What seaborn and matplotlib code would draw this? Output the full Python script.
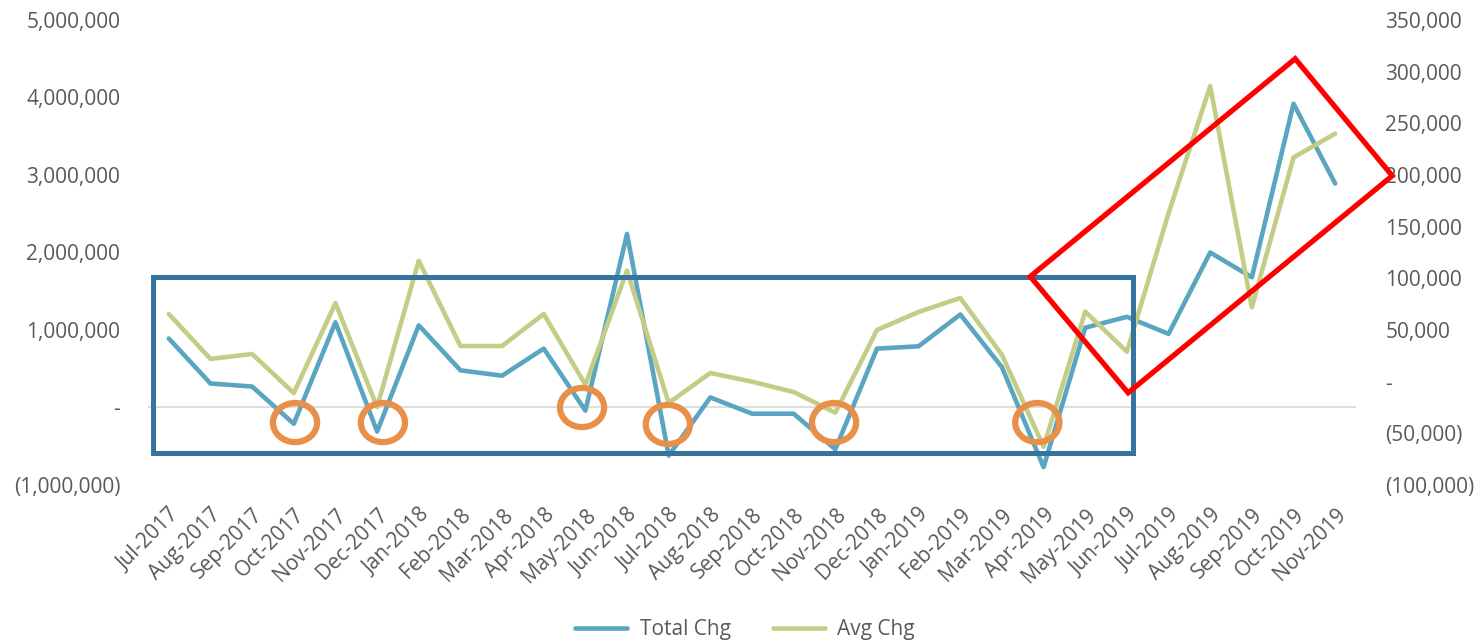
import numpy as np
import pandas as pd
import matplotlib
matplotlib.use("Agg")
import matplotlib.pyplot as plt
from matplotlib.patches import Rectangle, Ellipse, Polygon
from matplotlib.ticker import FuncFormatter, MultipleLocator
from matplotlib.lines import Line2D
import seaborn as sns

months = ["Jul-2017", "Aug-2017", "Sep-2017", "Oct-2017", "Nov-2017", "Dec-2017",
          "Jan-2018", "Feb-2018", "Mar-2018", "Apr-2018", "May-2018", "Jun-2018",
          "Jul-2018", "Aug-2018", "Sep-2018", "Oct-2018", "Nov-2018", "Dec-2018",
          "Jan-2019", "Feb-2019", "Mar-2019", "Apr-2019", "May-2019", "Jun-2019",
          "Jul-2019", "Aug-2019", "Sep-2019", "Oct-2019", "Nov-2019"]

total_chg = [890000, 310000, 270000, -210000, 1100000, -310000,
             1060000, 480000, 410000, 760000, -40000, 2240000,
             -620000, 130000, -80000, -80000, -540000, 760000,
             790000, 1200000, 520000, -770000, 1030000, 1170000,
             950000, 2000000, 1680000, 3920000, 2890000]

avg_chg = [65500, 22000, 26800, -11000, 76000, -24500,
           117000, 34500, 34500, 65500, -3000, 107500,
           -20600, 8400, 0, -10000, -30000, 50000,
           67500, 81000, 26000, -63000, 67800, 29000,
           163000, 286000, 72000, 217000, 240000]

df = pd.DataFrame({"idx": np.arange(len(months)), "month": months,
                   "total": total_chg, "avg": avg_chg})

sns.set_style("white")
plt.rcParams["font.family"] = ["Open Sans", "DejaVu Sans"]

BLUE = "#5aa5c2"
GREEN = "#c3cd86"
LABEL = "#595959"

W, H = 1479, 644
fig = plt.figure(figsize=(W / 100, H / 100), dpi=100)
ax = fig.add_axes([148 / W, 1 - 485 / H, 1208 / W, 465 / H])
ax2 = ax.twinx()

sns.lineplot(data=df, x="idx", y="total", ax=ax, color=BLUE, linewidth=3.3,
             solid_joinstyle="round", solid_capstyle="round", zorder=3)
sns.lineplot(data=df, x="idx", y="avg", ax=ax2, color=GREEN, linewidth=3.3,
             solid_joinstyle="round", solid_capstyle="round", zorder=2)

ax.set_xlim(-0.5, len(months) - 0.5)
ax.set_ylim(-1_000_000, 5_000_000)
ax2.set_ylim(-100_000, 350_000)
ax.yaxis.set_major_locator(MultipleLocator(1_000_000))
ax2.yaxis.set_major_locator(MultipleLocator(50_000))


def acct(v, _pos):
    if abs(v) < 0.5:
        return "-"
    s = f"{abs(v):,.0f}"
    return f"({s})" if v < 0 else s


ax.yaxis.set_major_formatter(FuncFormatter(acct))
ax2.yaxis.set_major_formatter(FuncFormatter(acct))

ax.set_xticks(df["idx"])
ax.set_xticklabels(months, rotation=45, ha="right", va="top",
                   rotation_mode="anchor")
for a in (ax, ax2):
    a.set_xlabel("")
    a.set_ylabel("")
    for sp in a.spines.values():
        sp.set_visible(False)
    a.tick_params(length=0, labelsize=15, labelcolor=LABEL)
    a.grid(False)
ax.tick_params(axis="y", pad=20)
ax2.tick_params(axis="y", pad=21)
ax.tick_params(axis="x", pad=14)

# zero reference line of the primary axis
ax.axhline(0, color="#d9d9d9", linewidth=1.2, zorder=1)

# highlight: first stretch of the series
tr = ax.transData
ax2.add_patch(Rectangle((-0.38, -590_000), 23.53, 2_270_000, transform=tr,
                        fill=False, edgecolor="#34749f", linewidth=3.6,
                        zorder=5, clip_on=False))

# dips circled
dips = [(3.03, -194_000), (5.14, -194_000), (9.92, 0), (11.98, -219_000),
        (15.97, -194_000), (20.85, -194_000)]
for cx, cy in dips:
    ax2.add_patch(Ellipse((cx, cy), 1.06, 505_000, transform=tr, fill=False,
                          edgecolor="#e8904a", linewidth=4.5, zorder=6))

# recent upswing
ax2.add_patch(Polygon([(20.68, 1_690_000), (27.04, 4_500_000),
                       (29.37, 2_990_000), (23.03, 190_000)], closed=True,
                      transform=tr, fill=False, edgecolor="#ff0000",
                      linewidth=3.8, joinstyle="miter", zorder=6,
                      clip_on=False))

handles = [Line2D([], [], color=BLUE, linewidth=3.3, solid_capstyle="round"),
           Line2D([], [], color=GREEN, linewidth=3.3, solid_capstyle="round")]
leg = fig.legend(handles, ["Total Chg", "Avg Chg"], loc="center",
                 bbox_to_anchor=(745 / W, 1 - 630 / H), ncol=2, frameon=False,
                 fontsize=15, handlelength=2.5, columnspacing=2.0,
                 handletextpad=0.6)
for t in leg.get_texts():
    t.set_color(LABEL)

fig.savefig("out.png", dpi=100)
